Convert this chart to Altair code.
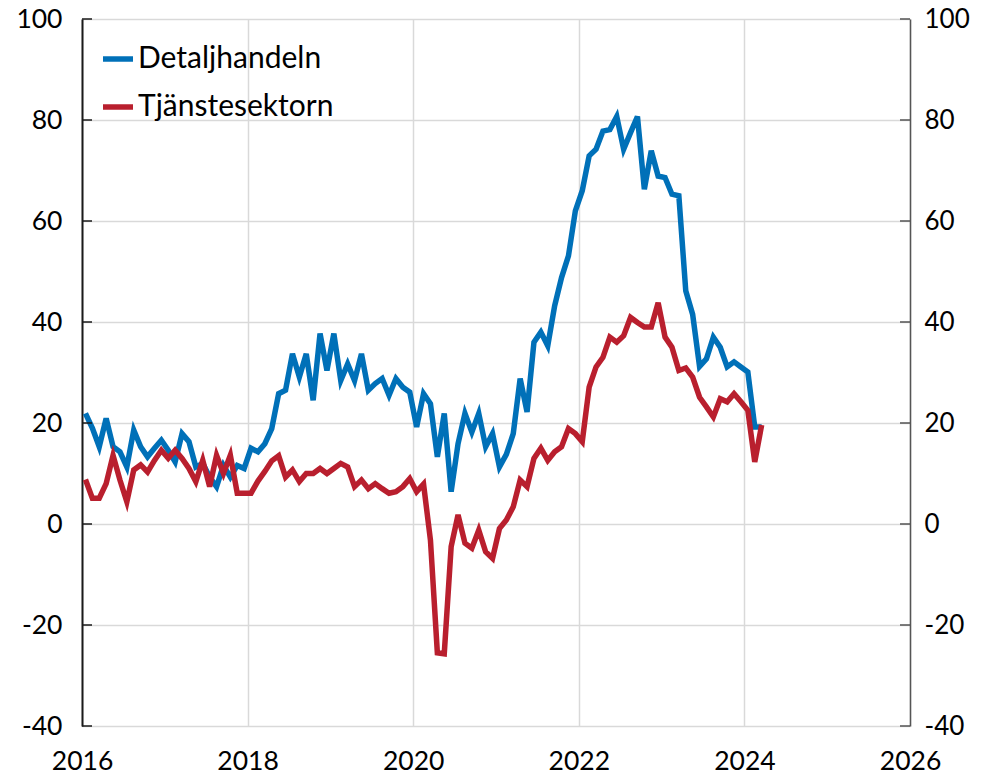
import altair as alt
import pandas as pd

# Monthly values, Jan 2016 .. Mar 2024
detaljhandeln = [
    21.9, 19.0, 15.3, 20.9, 15.3, 14.3, 11.3, 18.6, 15.3, 13.3, 15.0, 16.6,
    14.6, 12.3, 17.9, 16.3, 11.3, 12.0, 9.3, 7.4, 11.6, 9.3, 11.6, 11.0,
    15.0, 14.3, 15.9, 18.9, 25.8, 26.5, 33.7, 29.1, 33.7, 24.5, 37.7, 30.4,
    37.7, 28.4, 31.7, 28.4, 33.7, 26.5, 27.8, 28.8, 25.5, 28.8, 27.1, 26.1,
    19.2, 25.8, 23.8, 13.3, 21.9, 6.4, 15.9, 21.9, 18.2, 21.9, 15.3, 17.9,
    11.3, 13.8, 17.9, 28.8, 22.2, 36.0, 38.0, 35.3, 43.2, 48.8, 53.1, 62.0,
    66.0, 72.9, 74.2, 77.8, 78.1, 80.7, 74.2, 77.5, 80.7, 66.3, 73.9, 68.9,
    68.6, 65.3, 65.0, 46.2, 41.5, 31.2, 32.7, 37.0, 35.0, 31.1, 32.1, 31.1,
    30.1, 19.2, 19.2,
]
tjanstesektorn = [
    8.8, 5.1, 5.1, 8.0, 13.6, 8.7, 4.4, 10.7, 11.7, 10.3, 12.6, 14.6,
    13.0, 14.6, 13.0, 11.0, 8.4, 12.6, 7.4, 13.6, 10.0, 13.6, 6.1, 6.1,
    6.1, 8.5, 10.4, 12.5, 13.5, 9.3, 10.7, 8.4, 10.0, 10.0, 11.0, 10.0,
    11.0, 12.0, 11.3, 7.4, 8.7, 7.0, 8.0, 7.0, 6.1, 6.4, 7.4, 9.0,
    6.4, 7.9, -3.2, -25.5, -25.7, -4.5, 1.8, -3.8, -4.8, -1.2, -5.5, -6.8,
    -0.9, 0.8, 3.4, 8.7, 7.4, 13.0, 15.0, 12.6, 14.3, 15.3, 18.9, 17.9,
    16.3, 27.1, 31.1, 33.0, 37.0, 36.0, 37.3, 40.9, 39.9, 39.0, 39.0, 43.8,
    37.0, 35.0, 30.4, 30.9, 29.1, 25.1, 23.2, 21.2, 24.8, 24.2, 25.8, 24.2,
    22.5, 12.3, 19.6,
]
start_year = 2016
series_names = ["Detaljhandeln", "Tjänstesektorn"]
series_colors = ["#0070B8", "#B91F2E"]
y_ticks = [-40, -20, 0, 20, 40, 60, 80, 100]
x_ticks = [2016, 2018, 2020, 2022, 2024, 2026]

rows = []
for name, vals in zip(series_names, [detaljhandeln, tjanstesektorn]):
    for i, v in enumerate(vals):
        rows.append({"t": start_year + (i + 0.5) / 12, "value": v, "serie": name})
df = pd.DataFrame(rows)
ticks_df = pd.DataFrame({"v": y_ticks})

W, H = 828, 707
FONT = "Lato"
FS = 26.5
YDOM = [-40, 100]
GRID = "#d9d9d9"
LBL = "datum.value + ''"

x_enc = alt.X(
    "t:Q",
    scale=alt.Scale(domain=[2016, 2026], nice=False, zero=False),
    axis=alt.Axis(values=x_ticks, labelExpr=LBL, grid=True, gridColor=GRID, gridWidth=1.5,
                  domain=False, ticks=False, tickSize=0, labelPadding=22,
                  labelFontSize=FS, labelFont=FONT, labelColor="black", title=None,
                  labelFlush=False),
)

lines = alt.Chart(df).mark_line(strokeWidth=5.5, strokeJoin="miter").encode(
    x=x_enc,
    y=alt.Y("value:Q", scale=alt.Scale(domain=YDOM, nice=False, zero=False),
            axis=alt.Axis(values=y_ticks, labelExpr=LBL, orient="left", grid=True, gridColor=GRID,
                          gridWidth=1.5, domain=True, domainColor="#1a1a1a", domainWidth=2,
                          ticks=False, tickSize=0, labelPadding=20,
                          labelFontSize=FS, labelFont=FONT, labelColor="black", title=None)),
    color=alt.Color("serie:N", scale=alt.Scale(domain=series_names, range=series_colors),
                    legend=alt.Legend(title=None, orient="none", legendX=18, legendY=22,
                                      symbolType="stroke", symbolStrokeWidth=5.5, symbolSize=900,
                                      labelFontSize=30, labelFont=FONT, labelColor="black",
                                      labelOffset=2, rowPadding=15, padding=0, labelLimit=0)),
)

left_ticks = alt.Chart(ticks_df).mark_rule(color="#1a1a1a", strokeWidth=1.5).encode(
    y=alt.Y("v:Q", scale=alt.Scale(domain=YDOM, nice=False, zero=False), axis=None),
    x=alt.value(0), x2=alt.value(10),
)

right_ticks = alt.Chart(ticks_df).mark_rule(color="#555555", strokeWidth=1.5).encode(
    y=alt.Y("v:Q", scale=alt.Scale(domain=YDOM, nice=False, zero=False),
            axis=alt.Axis(values=y_ticks, labelExpr=LBL, orient="right", grid=False,
                          domain=True, domainColor="#555555", domainWidth=1.5,
                          ticks=False, tickSize=0, labelPadding=14,
                          labelFontSize=26, labelFont=FONT, labelColor="black", title=None)),
    x=alt.value(W - 10), x2=alt.value(W),
)

chart = alt.layer(lines, left_ticks, right_ticks).resolve_scale(y="independent").properties(
    width=W, height=H,
    padding={"left": 74, "top": 11, "right": 63, "bottom": 47},
    autosize=alt.AutoSizeParams(type="none"),
    background="white",
).configure_view(stroke=None)

chart.save("out.html", embed_options={"renderer": "svg", "actions": False})
